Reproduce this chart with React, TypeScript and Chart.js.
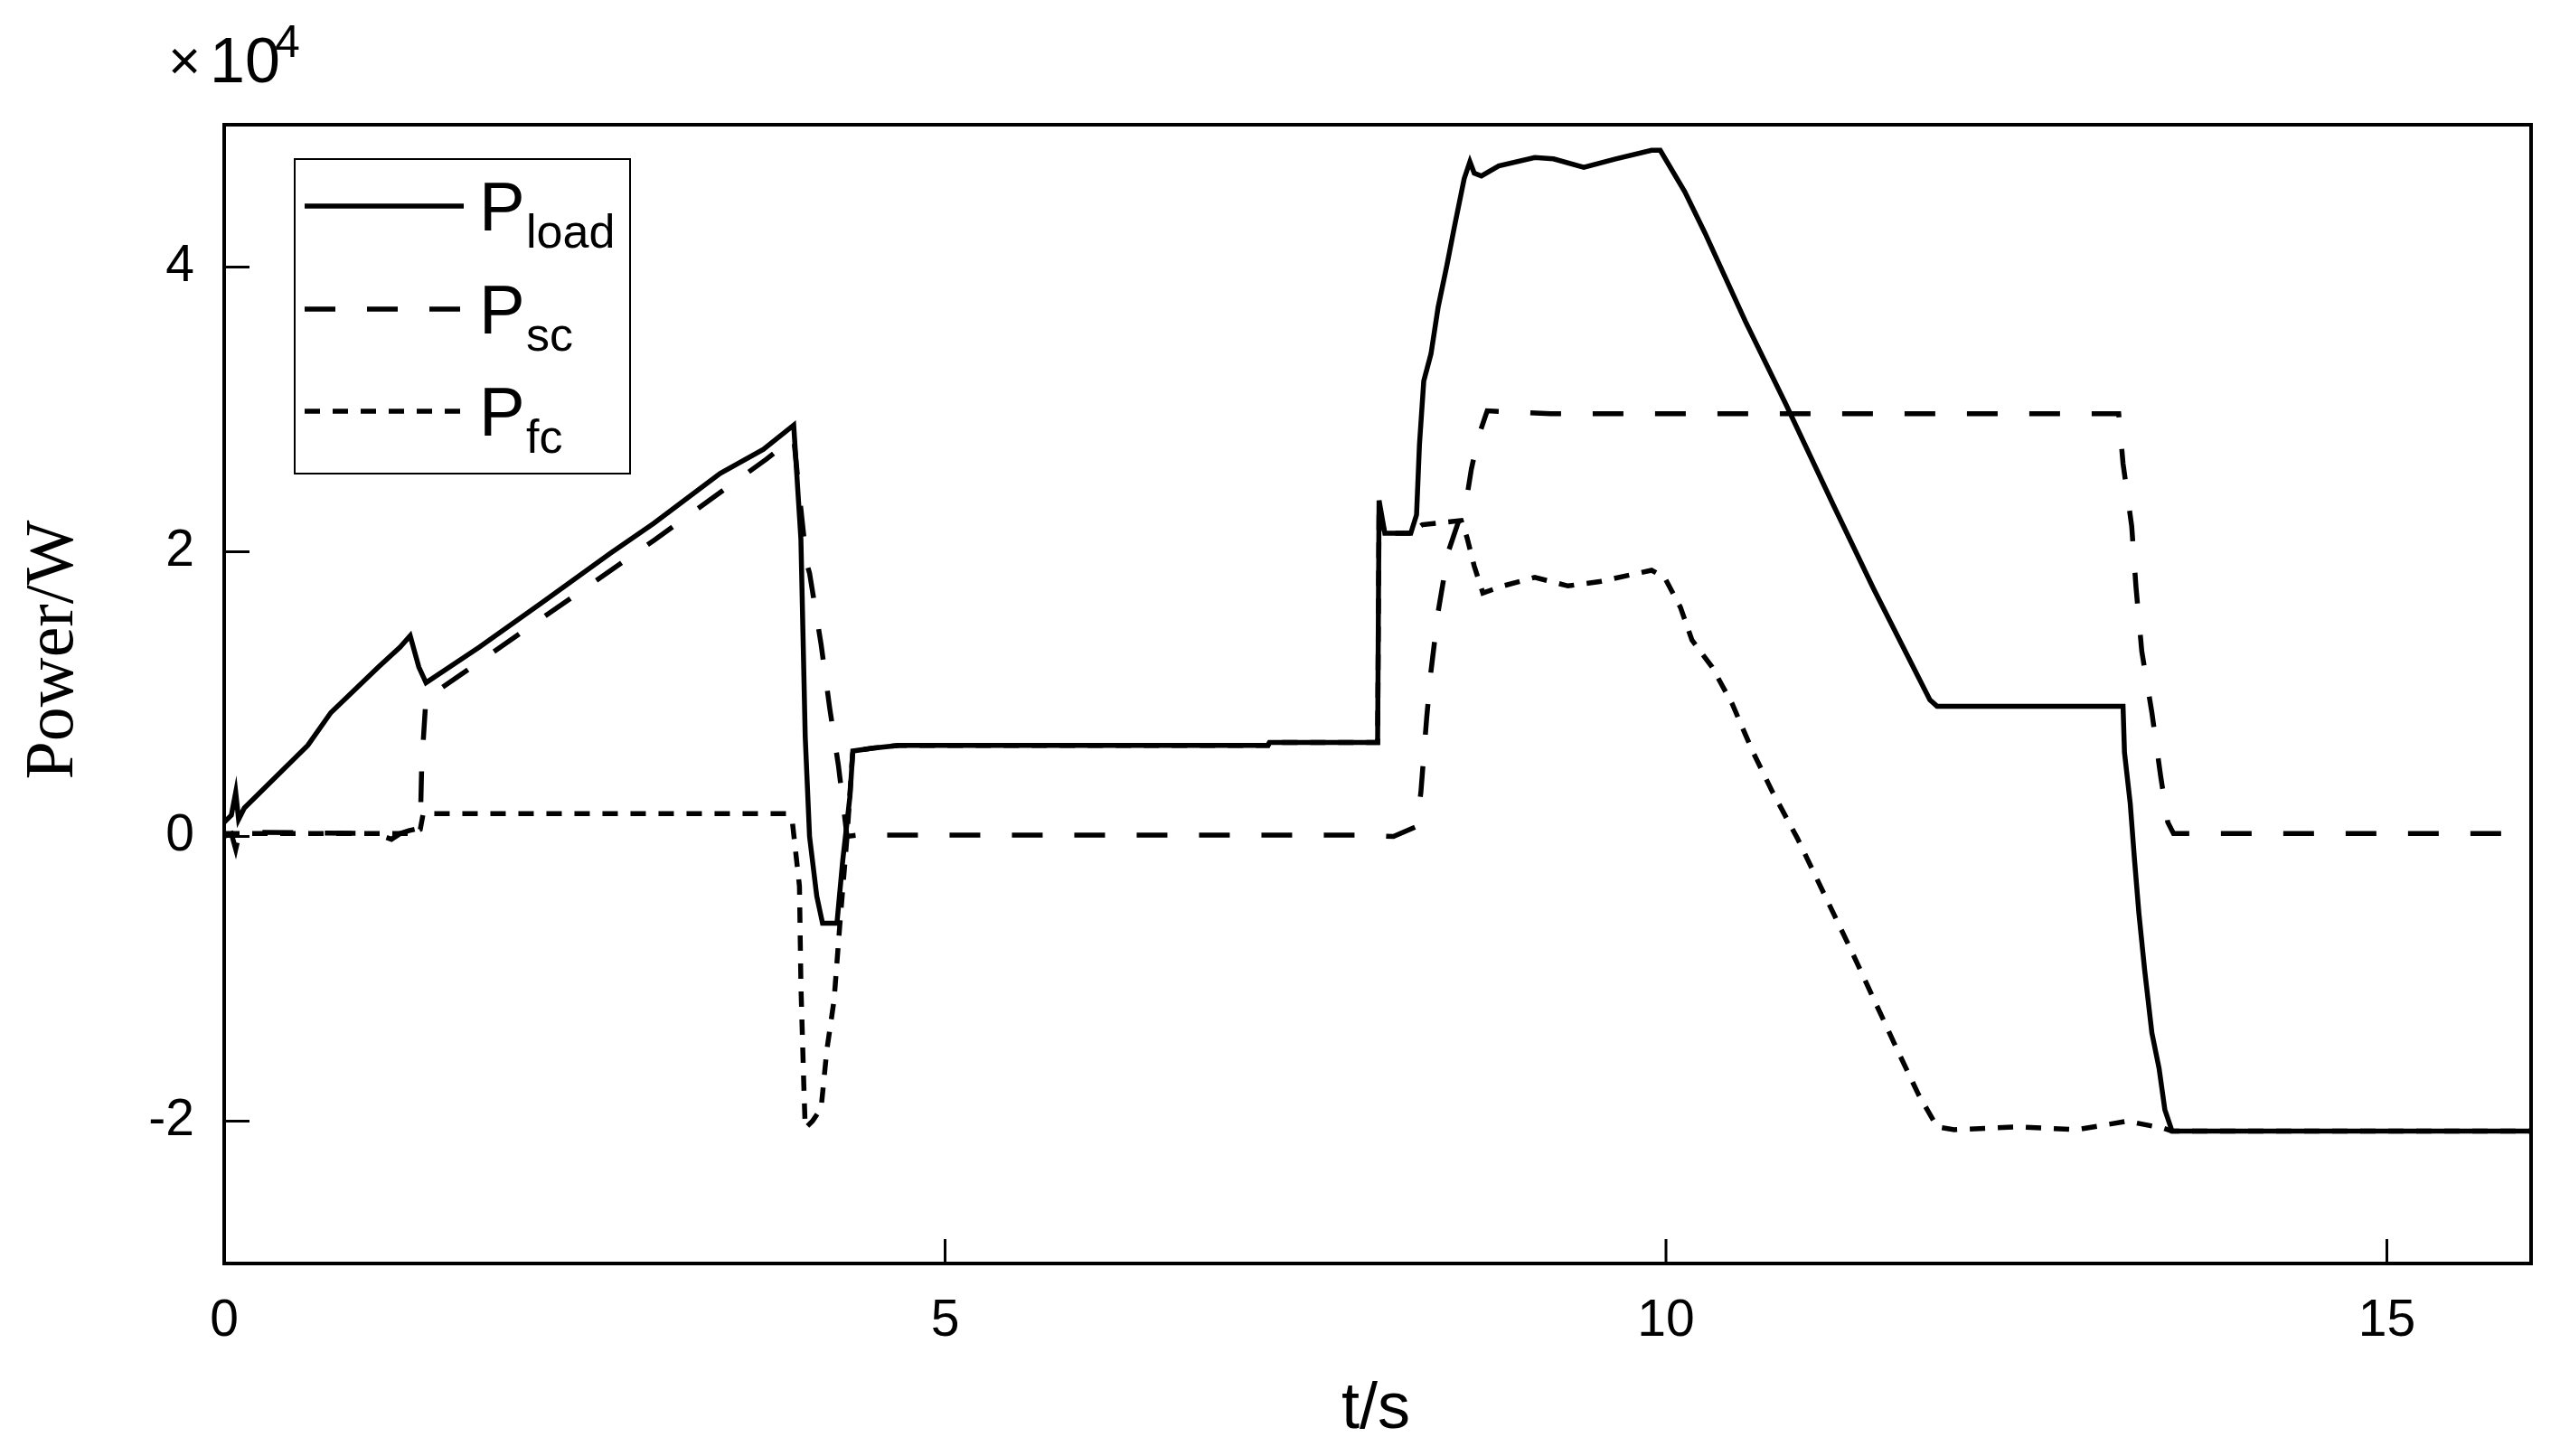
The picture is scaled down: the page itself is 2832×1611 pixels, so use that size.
import React, { useEffect, useRef } from 'react';
import { Chart, registerables } from 'chart.js';

Chart.register(...registerables);

// time axis values (s) and power values (W) for each series
const loadT = [0, 0.05, 0.08, 0.1, 0.14, 0.37, 0.58, 0.74, 1.07, 1.22, 1.29, 1.35, 1.4, 1.77, 2.2, 2.68, 2.98, 3.44, 3.74, 3.95, 4.0, 4.03, 4.06, 4.11, 4.15, 4.25, 4.29, 4.34, 4.36, 4.5, 4.68, 7.24, 7.25, 8.0, 8.01, 8.05, 8.23, 8.27, 8.29, 8.32, 8.37, 8.42, 8.48, 8.53, 8.6, 8.64, 8.67, 8.72, 8.84, 9.09, 9.22, 9.43, 9.65, 9.9, 9.96, 10.13, 10.27, 10.55, 10.83, 11.16, 11.44, 11.83, 11.88, 13.17, 13.18, 13.22, 13.25, 13.28, 13.32, 13.37, 13.42, 13.46, 13.51, 16];
const loadP = [1000, 1500, 3100, 1200, 2000, 4300, 6400, 8700, 11900, 13300, 14100, 11900, 10800, 13300, 16400, 19900, 22000, 25500, 27200, 28900, 20900, 7000, 0, -4200, -6100, -6100, -1700, 2800, 6000, 6200, 6400, 6400, 6600, 6600, 23600, 21300, 21300, 22600, 27500, 32000, 33900, 37200, 40100, 42700, 46200, 47400, 46600, 46400, 47100, 47700, 47600, 47000, 47600, 48200, 48200, 45300, 42400, 36200, 30400, 23300, 17400, 9600, 9150, 9150, 5900, 2300, -1700, -5400, -9400, -13800, -16300, -19200, -20700, -20700];

const scT = [0, 0.05, 0.08, 0.1, 0.14, 1.05, 1.16, 1.22, 1.28, 1.36, 1.37, 1.4, 1.46, 2.2, 2.98, 3.76, 3.95, 4.0, 4.04, 4.06, 4.14, 4.2, 4.26, 4.32, 4.4, 7.89, 8.11, 8.27, 8.3, 8.34, 8.37, 8.42, 8.49, 8.62, 8.65, 8.7, 8.76, 9.2, 13.14, 13.17, 13.23, 13.26, 13.3, 13.37, 13.43, 13.48, 13.52, 16];
const scP = [0, 200, -900, 0, 300, 200, -200, 200, 400, 600, 5000, 9800, 10100, 15300, 20800, 26500, 28000, 23000, 19200, 18500, 13500, 9000, 5000, 0, 100, 100, 0, 700, 3100, 8300, 11600, 15800, 20000, 23900, 25800, 28100, 29900, 29700, 29700, 26200, 21800, 17500, 13000, 8700, 4300, 1000, 200, 200];

const fcT = [0, 0.1, 1.3, 1.36, 1.38, 3.9, 3.94, 3.99, 4.0, 4.02, 4.03, 4.08, 4.14, 4.18, 4.23, 4.27, 4.32, 4.36, 4.5, 4.68, 7.24, 7.25, 8.0, 8.01, 8.05, 8.23, 8.31, 8.58, 8.62, 8.67, 8.73, 8.87, 9.09, 9.32, 9.54, 9.9, 9.99, 10.1, 10.18, 10.32, 10.46, 10.6, 10.74, 10.91, 11.28, 11.6, 11.75, 11.88, 12.0, 12.45, 12.85, 13.2, 13.45, 13.51, 16];
const fcP = [200, 200, 200, 500, 1600, 1600, 1100, -3500, -10400, -17400, -20500, -20000, -19100, -15000, -11500, -6200, 0, 6000, 6200, 6400, 6400, 6600, 6600, 23000, 21300, 21300, 21900, 22200, 21000, 19000, 17100, 17600, 18200, 17600, 17900, 18700, 18200, 16100, 13800, 11900, 9300, 6000, 3100, -100, -7900, -14900, -18100, -20400, -20600, -20400, -20600, -20000, -20500, -20700, -20700];

const xTicks = [0, 5, 10, 15];
const yTicks = [-20000, 0, 20000, 40000];
const seriesNames = ['load', 'sc', 'fc'];

const SANS = "'Liberation Sans', Arial, sans-serif";
const SERIF = "'Liberation Serif', 'Times New Roman', serif";

const toPts = (t: number[], p: number[]) => t.map((x, i) => ({ x, y: p[i] }));

const dashes: number[][] = [[], [34, 35], [17, 14]];
const LW = 5.5;

const decorPlugin = {
  id: 'decor',
  afterDraw(chart: any) {
    const ctx = chart.ctx as CanvasRenderingContext2D;
    const { left, right, top, bottom } = chart.chartArea;
    const xs = chart.scales.x;
    const ys = chart.scales.y;
    ctx.save();
    ctx.strokeStyle = '#000';
    ctx.fillStyle = '#000';
    ctx.setLineDash([]);
    // inward ticks
    ctx.lineWidth = 3;
    ctx.beginPath();
    xTicks.forEach((v) => {
      const px = xs.getPixelForValue(v);
      ctx.moveTo(px, bottom);
      ctx.lineTo(px, bottom - 27);
    });
    yTicks.forEach((v) => {
      const py = ys.getPixelForValue(v);
      ctx.moveTo(left, py);
      ctx.lineTo(left + 28, py);
    });
    ctx.stroke();
    // box
    ctx.lineWidth = 4;
    ctx.strokeRect(left, top, right - left, bottom - top);

    // legend
    const lx = 326, ly = 176, lw = 371, lh = 348;
    ctx.fillStyle = '#fff';
    ctx.fillRect(lx, ly, lw, lh);
    ctx.lineWidth = 2;
    ctx.strokeRect(lx, ly, lw, lh);
    const rowY = [228, 342, 455];
    seriesNames.forEach((name, i) => {
      const y = rowY[i];
      ctx.setLineDash(dashes[i]);
      ctx.lineWidth = LW;
      ctx.lineCap = 'butt';
      ctx.beginPath();
      ctx.moveTo(337, y);
      ctx.lineTo(513, y);
      ctx.stroke();
      ctx.setLineDash([]);
      ctx.fillStyle = '#000';
      ctx.textAlign = 'left';
      ctx.textBaseline = 'alphabetic';
      ctx.font = `76px ${SANS}`;
      ctx.fillText('P', 530, y + 27);
      ctx.font = `52px ${SANS}`;
      ctx.fillText(name, 582, y + 46);
    });

    // exponent label
    ctx.fillStyle = '#000';
    ctx.textBaseline = 'alphabetic';
    ctx.font = `62px ${SANS}`;
    ctx.fillText('\u00d7', 186, 88);
    ctx.font = `70px ${SANS}`;
    ctx.fillText('10', 232, 91);
    ctx.font = `50px ${SANS}`;
    ctx.fillText('4', 304, 63);

    // axis titles
    ctx.textAlign = 'center';
    ctx.font = `72px ${SANS}`;
    ctx.fillText('t/s', 1522, 1580);
    ctx.save();
    ctx.translate(80, 719);
    ctx.rotate(-Math.PI / 2);
    ctx.font = `76px ${SERIF}`;
    ctx.textBaseline = 'alphabetic';
    ctx.fillText('Power/W', 0, 0);
    ctx.restore();
    ctx.restore();
  },
};

export default function App() {
  const ref = useRef<HTMLCanvasElement | null>(null);
  useEffect(() => {
    if (!ref.current) return;
    const mk = (label: string, t: number[], p: number[], i: number) => ({
      label,
      data: toPts(t, p),
      borderColor: '#000',
      backgroundColor: '#000',
      borderWidth: LW,
      borderDash: dashes[i],
      borderCapStyle: 'butt' as const,
      borderJoinStyle: 'miter' as const,
      pointRadius: 0,
      tension: 0,
      fill: false,
    });
    const chart = new Chart(ref.current, {
      type: 'line',
      data: {
        datasets: [
          mk('P_load', loadT, loadP, 0),
          mk('P_sc', scT, scP, 1),
          mk('P_fc', fcT, fcP, 2),
        ],
      },
      options: {
        animation: false,
        responsive: false,
        devicePixelRatio: 1,
        parsing: false,
        layout: { padding: { left: 0, right: 32, top: 138, bottom: 0 } },
        plugins: { legend: { display: false }, tooltip: { enabled: false } },
        scales: {
          x: {
            type: 'linear',
            min: 0,
            max: 16,
            afterBuildTicks: (s: any) => {
              s.ticks = xTicks.map((v) => ({ value: v }));
            },
            afterFit: (s: any) => {
              s.height = 213;
            },
            grid: { display: false, drawTicks: false },
            border: { display: false },
            ticks: {
              color: '#000',
              padding: 30,
              maxRotation: 0,
              autoSkip: false,
              font: { family: SANS, size: 57 },
            },
          },
          y: {
            type: 'linear',
            min: -30000,
            max: 50000,
            afterBuildTicks: (s: any) => {
              s.ticks = yTicks.map((v) => ({ value: v }));
            },
            afterFit: (s: any) => {
              s.width = 248;
            },
            grid: { display: false, drawTicks: false },
            border: { display: false },
            ticks: {
              color: '#000',
              padding: 33,
              autoSkip: false,
              font: { family: SANS, size: 57 },
              callback: (v: any) => String(Number(v) / 10000),
            },
          },
        },
      },
      plugins: [decorPlugin],
    });
    return () => chart.destroy();
  }, []);
  return (
    <div style={{ position: 'fixed', left: 0, top: 0, width: 2832, height: 1611, background: '#fff' }}>
      <canvas ref={ref} width={2832} height={1611} style={{ width: 2832, height: 1611, display: 'block' }} />
    </div>
  );
}
